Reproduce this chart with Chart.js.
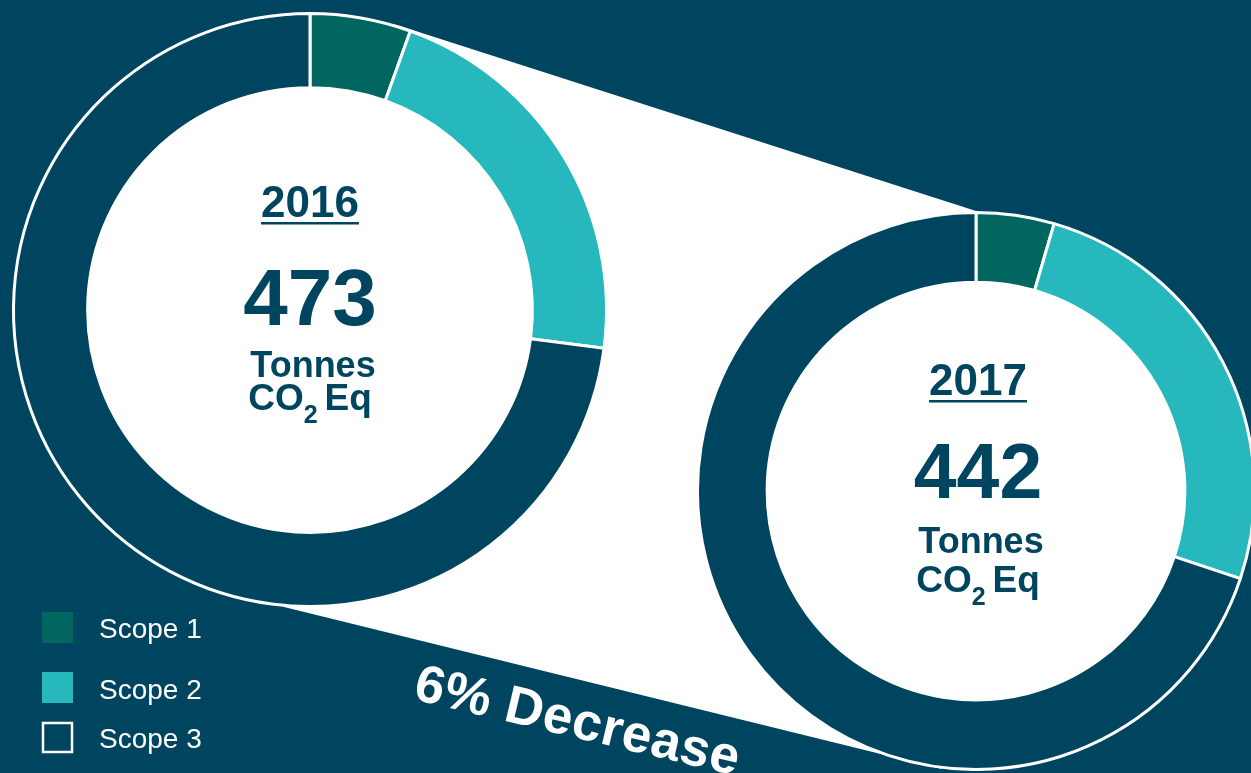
<!DOCTYPE html>
<html>
<head>
<meta charset="utf-8">
<script src="https://cdn.jsdelivr.net/npm/chart.js@4"></script>
<style>
  html, body { margin: 0; padding: 0; overflow: hidden; width: 1251px; height: 773px; background: #00455F; }
  #left { position: absolute; left: 0; top: 0; }
  #right { position: absolute; left: 696px; top: 211px; }
</style>
</head>
<body>
<canvas id="left" width="1251" height="773"></canvas>
<canvas id="right" width="560" height="560"></canvas>
<script>
// data (tonnes CO2 eq)
const categories = ['Scope 1', 'Scope 2', 'Scope 3'];
const years = ['2016', '2017'];
const totals = [473, 442];
const scope1 = [26, 20];
const scope2 = [102, 113];
const scope3 = [345, 309];
const changeLabel = '6% Decrease';

const BG = '#00455F';
const NAVY = '#00455F';
const colors = ['#00665F', '#27B8BD', BG];
const FONT = '"Liberation Sans", Arial, sans-serif';

function datasetFor(i) {
    return {
        data: [scope1[i], scope2[i], scope3[i]],
        backgroundColor: colors,
        borderColor: '#ffffff',
        borderWidth: 3
    };
}

function drawCenter(ctx, x, y, idx, o) {
    ctx.save();
    ctx.fillStyle = NAVY;
    ctx.textBaseline = 'alphabetic';
    ctx.textAlign = 'center';

    ctx.font = 'bold 44px ' + FONT;
    ctx.fillText(years[idx], x, y + o.year);
    const w = ctx.measureText(years[idx]).width;
    ctx.fillRect(x - w / 2, y + o.year + 5, w, 2.5);

    ctx.font = 'bold ' + o.totalSize + 'px ' + FONT;
    ctx.fillText(String(totals[idx]), x, y + o.total);

    ctx.font = 'bold 36px ' + FONT;
    ctx.fillText('Tonnes', x + 3, y + o.tonnes);

    // CO2 Eq with subscript
    ctx.font = 'bold 37px ' + FONT;
    const wCO = ctx.measureText('CO').width;
    const wEq = ctx.measureText('Eq').width;
    ctx.font = 'bold 25px ' + FONT;
    const w2 = ctx.measureText('2').width;
    const gap = 7;
    let sx = x - (wCO + w2 + gap + wEq) / 2;
    ctx.textAlign = 'left';
    ctx.font = 'bold 37px ' + FONT;
    ctx.fillText('CO', sx, y + o.co2);
    ctx.font = 'bold 25px ' + FONT;
    ctx.fillText('2', sx + wCO, y + o.co2 + 13);
    ctx.font = 'bold 37px ' + FONT;
    ctx.fillText('Eq', sx + wCO + w2 + gap, y + o.co2);
    ctx.restore();
}

function whiteCenter(chart) {
    const arc = chart.getDatasetMeta(0).data[0];
    const ctx = chart.ctx;
    ctx.save();
    ctx.fillStyle = '#ffffff';
    ctx.beginPath();
    ctx.arc(arc.x, arc.y, arc.innerRadius + 1, 0, Math.PI * 2);
    ctx.fill();
    ctx.restore();
}

// right doughnut (2017), drawn first so the left canvas can link to it
const rightChart = new Chart(document.getElementById('right'), {
    type: 'doughnut',
    data: { labels: categories, datasets: [datasetFor(1)] },
    options: {
        responsive: false,
        animation: false,
        cutout: '75%',
        plugins: { legend: { display: false }, tooltip: { enabled: false } }
    },
    plugins: [{
        id: 'center2017',
        beforeDatasetsDraw(chart) { whiteCenter(chart); },
        afterDatasetsDraw(chart) {
            const arc = chart.getDatasetMeta(0).data[0];
            drawCenter(chart.ctx, arc.x + 2, arc.y, 1, { year: -96, totalSize: 77, total: 7, tonnes: 62, co2: 101 });
        }
    }]
});

const linkPlugin = {
    id: 'link',
    beforeDatasetsDraw(chart) {
        const ctx = chart.ctx;
        const a = chart.getDatasetMeta(0).data[0];
        const r1 = a.outerRadius + 1.5;
        const rc = rightChart.getDatasetMeta(0).data[0];
        const cv = rightChart.canvas;
        const x2 = cv.offsetLeft + rc.x, y2 = cv.offsetTop + rc.y, r2 = rc.outerRadius + 1.5;
        const deg = Math.PI / 180;
        ctx.save();
        ctx.fillStyle = '#ffffff';
        ctx.beginPath();
        ctx.moveTo(a.x + r1 * Math.cos(-73.5 * deg), a.y + r1 * Math.sin(-73.5 * deg));
        ctx.lineTo(x2, y2 - r2);
        ctx.lineTo(x2 + r2 * Math.cos(97 * deg), y2 + r2 * Math.sin(97 * deg));
        ctx.lineTo(a.x + r1 * Math.cos(95.2 * deg), a.y + r1 * Math.sin(95.2 * deg));
        ctx.closePath();
        ctx.fill();
        ctx.restore();
        whiteCenter(chart);
    },
    afterDatasetsDraw(chart) {
        const ctx = chart.ctx;
        const a = chart.getDatasetMeta(0).data[0];
        drawCenter(ctx, a.x, a.y, 0, { year: -93, totalSize: 80, total: 15, tonnes: 67, co2: 100 });

        // legend
        const boxY = [612, 672, 722];
        const textY = [638, 699, 748];
        ctx.save();
        ctx.font = '28px ' + FONT;
        ctx.textAlign = 'left';
        ctx.textBaseline = 'alphabetic';
        categories.forEach((c, i) => {
            if (i === 2) {
                ctx.strokeStyle = '#ffffff';
                ctx.lineWidth = 2.5;
                ctx.strokeRect(43, boxY[i] + 1, 29, 29);
            } else {
                ctx.fillStyle = colors[i];
                ctx.fillRect(42, boxY[i], 31, 31);
            }
            ctx.fillStyle = '#ffffff';
            ctx.fillText(c, 99, textY[i]);
        });

        // change label along the lower link edge
        ctx.translate(412, 699);
        ctx.rotate(13.3 * Math.PI / 180);
        ctx.font = 'bold 53px ' + FONT;
        ctx.letterSpacing = '0.5px';
        ctx.fillText(changeLabel, 0, 0);
        ctx.restore();
    }
};

// left doughnut (2016) on a full-page canvas
new Chart(document.getElementById('left'), {
    type: 'doughnut',
    data: { labels: categories, datasets: [datasetFor(0)] },
    options: {
        responsive: false,
        animation: false,
        cutout: '75%',
        layout: { padding: { left: 12, top: 12, right: 643, bottom: 165 } },
        plugins: { legend: { display: false }, tooltip: { enabled: false } }
    },
    plugins: [linkPlugin]
});
</script>
</body>
</html>
